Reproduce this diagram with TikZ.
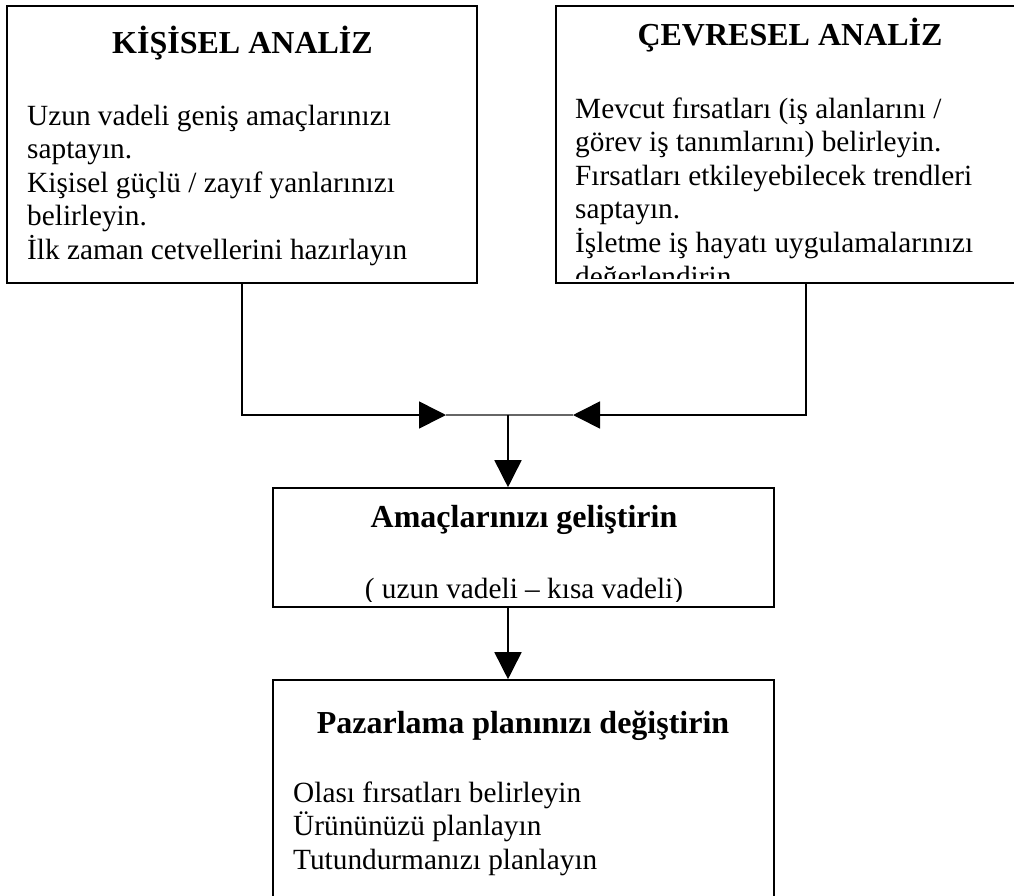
\documentclass[tikz,border=0pt]{standalone}
\usepackage{fontspec}
\setmainfont{Liberation Serif}
\usetikzlibrary{arrows.meta}

\newcommand{\satirlar}[1]{\begin{tabular}[t]{@{}l@{}}#1\end{tabular}}

\begin{document}
\begin{tikzpicture}[x=1pt,y=-1pt]
   \tikzstyle{kutu}=[rectangle,draw=black,line width=1.6pt,inner sep=0pt]
   \tikzstyle{yazi}=[inner sep=0pt,font=\fontsize{29.3}{33.5}\selectfont]
   \tikzstyle{baslik}=[inner sep=0pt,font=\fontsize{32}{36}\selectfont\bfseries]
   \tikzstyle{ok}=[line width=1.6pt,-{Triangle[length=27pt,width=27pt]}]
   \tikzstyle{ince}=[line width=1.2pt,draw=black!60]
   \clip (0,0) rectangle (1014,895);

   % kutular
   \node[kutu, minimum width=470, minimum height=277] (kisisel) at (242,144.5) {};
   \node[kutu, minimum width=500, minimum height=277] (cevresel) at (806,144.5) {};
   \node[kutu, minimum width=501, minimum height=119] (amac) at (523.5,547.5) {};
   \node[kutu, minimum width=501, minimum height=260] (pazar) at (523.5,810) {};

   % yazilar
   \node[baslik, anchor=base] (t1) at (242.5,53) {KİŞİSEL ANALİZ};
   \node[yazi, anchor=base west] (m1) at (27,125) {\satirlar{Uzun vadeli geniş amaçlarınızı\\ saptayın.\\ Kişisel güçlü / zayıf yanlarınızı\\ belirleyin.\\ İlk zaman cetvellerini hazırlayın}};

   \node[baslik, anchor=base] (t2) at (790,45) {ÇEVRESEL ANALİZ};
   \begin{scope}
      \clip (cevresel.north west) rectangle ([yshift=5pt]cevresel.south east);
      \node[yazi, anchor=base west] (m2) at (575,118) {\satirlar{Mevcut fırsatları (iş alanlarını /\\ görev iş tanımlarını) belirleyin.\\ Fırsatları etkileyebilecek trendleri\\ saptayın.\\ İşletme iş hayatı uygulamalarınızı\\ değerlendirin.}};
   \end{scope}

   \node[baslik, anchor=base] (t3) at (524,527) {Amaçlarınızı geliştirin};
   \begin{scope}
      \clip (amac.north west) rectangle ([yshift=6pt]amac.south east);
      \node[yazi, anchor=base] (m3) at (524,598) {( uzun vadeli – kısa vadeli)};
   \end{scope}

   \node[baslik, anchor=base] (t4) at (523,733) {Pazarlama planınızı değiştirin};
   \node[yazi, anchor=base west] (m4) at (293,802) {\satirlar{Olası fırsatları belirleyin\\ Ürününüzü planlayın\\ Tutundurmanızı planlayın}};

   % baglantilar
   \coordinate (solok) at (446,415);
   \coordinate (sagok) at (573,415);
   \coordinate (birles) at (508,415);
   \draw[ince] (solok) -- (sagok);
   \draw[ok] (kisisel.south) |- (solok);
   \draw[ok] (cevresel.south) |- (sagok);
   \draw[ok] (birles) -- (birles |- amac.north);
   \draw[ok] (birles |- amac.south) -- (birles |- pazar.north);
\end{tikzpicture}
\end{document}
